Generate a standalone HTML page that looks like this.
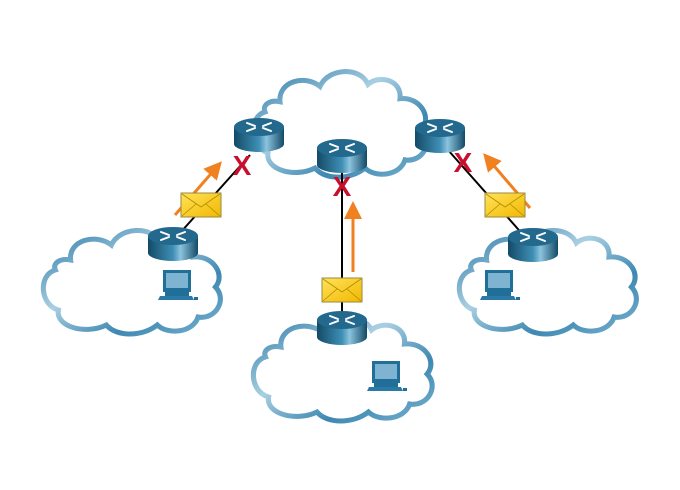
<!DOCTYPE html>
<html><head><style>body{margin:0;background:#fff}svg{display:block}</style></head><body>
<svg width="680" height="490" viewBox="0 0 680 490" xmlns="http://www.w3.org/2000/svg">
<defs>
<linearGradient id="cg" x1="0" y1="0" x2="1" y2="1">
<stop offset="0" stop-color="#2a78a6"/><stop offset="0.4" stop-color="#a9cfe2"/><stop offset="0.7" stop-color="#3d88b2"/><stop offset="1" stop-color="#7ab2d0"/></linearGradient>
<linearGradient id="rb" x1="0" y1="0" x2="1" y2="0">
<stop offset="0" stop-color="#134a66"/><stop offset="0.5" stop-color="#3f8fb5"/><stop offset="0.65" stop-color="#8cc3dd"/><stop offset="1" stop-color="#134a66"/></linearGradient>
<linearGradient id="eg" x1="0" y1="0" x2="1" y2="1">
<stop offset="0" stop-color="#ffe25a"/><stop offset="1" stop-color="#f2b800"/></linearGradient>
<g id="cloud"><path d="M30,35 C28,15 55,8 70,20 C78,2 110,0 118,18 C130,8 152,14 150,32 C170,30 182,50 172,62 C184,75 172,95 155,92 C150,108 125,110 115,100 C100,112 75,112 65,100 C45,110 15,102 18,85 C0,80 -2,50 15,45 C12,38 20,33 30,35 Z" fill="#fff" stroke="url(#cg)" stroke-width="5"/></g>
<g id="rt">
<path d="M-25,0 L-25,17 A25,8 0 0 0 25,17 L25,0 Z" fill="url(#rb)"/>
<ellipse cx="0" cy="0" rx="25" ry="9" fill="#23698e"/>
<g stroke="#fff" stroke-width="2" stroke-linecap="round">
<line x1="-12" y1="-4" x2="-4" y2="-1"/><line x1="12" y1="4" x2="4" y2="1"/>
<line x1="-12" y1="4" x2="-4" y2="1"/><line x1="12" y1="-4" x2="4" y2="-1"/></g>
</g>
<g id="pc">
<rect x="-15" y="-16" width="28" height="22" fill="#1f6f99"/>
<rect x="-12" y="-13" width="22" height="15" fill="#7fb3d2"/>
<rect x="-13" y="6" width="24" height="4" fill="#1f6f99"/>
<path d="M-18,10 L14,10 L16,14 L-20,14 Z" fill="#2a7aa5"/>
<rect x="16" y="11" width="4" height="3" fill="#1f6f99"/>
</g>
<g id="env">
<rect x="0" y="0" width="40" height="24" fill="url(#eg)" stroke="#9a8a40" stroke-width="1"/>
<path d="M1,1 L20,14 L39,1 M1,23 L15,11 M39,23 L25,11" fill="none" stroke="#b08a00" stroke-width="0.8"/>
</g>
<marker id="ah" markerWidth="6" markerHeight="6" refX="3" refY="3" orient="auto"><path d="M0,0 L6,3 L0,6 Z" fill="#f08020"/></marker>
</defs>
<use href="#cloud" transform="translate(250,66) scale(1.0,1.02)"/>
<use href="#cloud" transform="translate(40,225) scale(1.02,1.0)"/>
<use href="#cloud" transform="translate(250,312) scale(1.03,1.0)"/>
<use href="#cloud" transform="translate(456,225) scale(1.02,1.0)"/>
<g stroke="#000" stroke-width="2">
<line x1="250" y1="155" x2="180" y2="233"/>
<line x1="342" y1="168" x2="342" y2="318"/>
<line x1="448" y1="150" x2="525" y2="237"/>
</g>
<use href="#rt" transform="translate(259,127)"/>
<use href="#rt" transform="translate(342,148)"/>
<use href="#rt" transform="translate(440,128)"/>
<use href="#rt" transform="translate(173,236)"/>
<use href="#rt" transform="translate(342,320)"/>
<use href="#rt" transform="translate(533,237)"/>
<use href="#pc" transform="translate(178,286)"/>
<use href="#pc" transform="translate(387,377)"/>
<use href="#pc" transform="translate(500,286)"/>
<g stroke="#f08020" stroke-width="3">
<line x1="175" y1="215" x2="216" y2="168" marker-end="url(#ah)"/>
<line x1="353" y1="272" x2="353" y2="210" marker-end="url(#ah)"/>
<line x1="530" y1="208" x2="489" y2="160" marker-end="url(#ah)"/>
</g>
<use href="#env" transform="translate(181,193)"/>
<use href="#env" transform="translate(322,278)"/>
<use href="#env" transform="translate(485,193)"/>
<g font-family="Liberation Sans, sans-serif" font-size="28" font-weight="bold" fill="#c8102e" text-anchor="middle">
<text x="242" y="175">X</text><text x="342" y="196">X</text><text x="463" y="172">X</text>
</g>
</svg>
</body></html>
